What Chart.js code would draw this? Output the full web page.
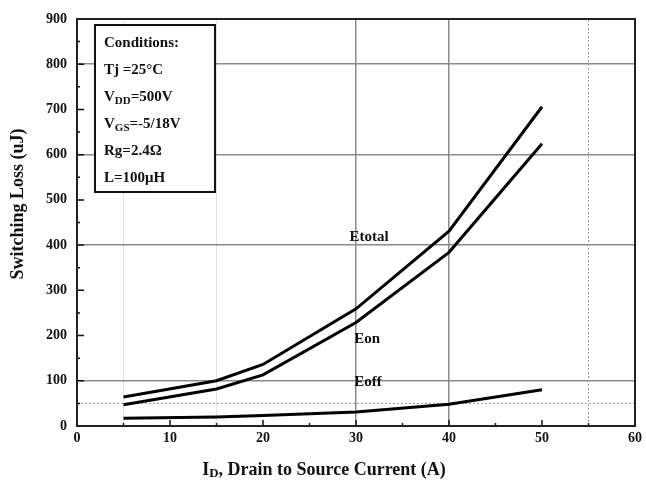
<!DOCTYPE html>
<html>
<head>
<meta charset="utf-8">
<script src="https://cdn.jsdelivr.net/npm/chart.js@4/dist/chart.umd.min.js"></script>
<style>
  html, body { margin: 0; padding: 0; background: #fff; }
  #wrap { width: 646px; height: 491px; }
</style>
</head>
<body>
<div id="wrap"><canvas id="chart"></canvas></div>
<script>
// ---- data ----
const currents = [5, 15, 20, 30, 40, 50];          // I_D (A)
const eTotal   = [64, 100, 136, 259, 431, 706];     // uJ
const eOn      = [47, 82, 113, 229, 384, 624];
const eOff     = [17, 20, 23, 31, 48, 80];
const refLoss = 50;        // dotted horizontal line
const refCurrent = 55;     // dotted vertical line
const xMax = 60, yMax = 900;
const yGridSolid = [100, 400, 600, 800];
const xGridSolid = [30, 40];
const xGridFaint = [5, 15];

// curve labels: [text, x value, y value]
const curveLabels = [['Etotal', 29.3, 418], ['Eon', 29.8, 193], ['Eoff', 29.8, 96]];

// conditions box, each line = pieces of [text, isSubscript]
const conditions = [
  [['Conditions:', 0]],
  [['Tj =25°C', 0]],
  [['V', 0], ['DD', 1], ['=500V', 0]],
  [['V', 0], ['GS', 1], ['=-5/18V', 0]],
  [['Rg=2.4Ω', 0]],
  [['L=100μH', 0]]
];

const SERIF = '"Liberation Serif", "DejaVu Serif", serif';
const pts = ys => currents.map((x, i) => ({ x, y: ys[i] }));

function drawPieces(ctx, pieces, x, y, size) {
  pieces.forEach(([t, sub]) => {
    ctx.font = `bold ${sub ? Math.round(size * 0.7) : size}px ${SERIF}`;
    ctx.fillText(t, x, sub ? y + 4 : y);
    x += ctx.measureText(t).width;
  });
}

const decor = {
  id: 'decor',
  afterDraw(chart) {
    const { ctx, chartArea: a, scales: { x, y } } = chart;
    ctx.save();
    // inward ticks
    ctx.strokeStyle = '#111';
    ctx.lineWidth = 1.5;
    ctx.beginPath();
    for (let v = 50; v < yMax; v += 50) {
      const py = y.getPixelForValue(v), len = v % 100 === 0 ? 7 : 3;
      ctx.moveTo(a.left, py); ctx.lineTo(a.left + len, py);
    }
    for (let v = 5; v < xMax; v += 5) {
      const px = x.getPixelForValue(v), len = v % 10 === 0 ? 6 : 3;
      ctx.moveTo(px, a.bottom); ctx.lineTo(px, a.bottom - len);
    }
    ctx.stroke();
    // frame
    ctx.strokeStyle = '#222';
    ctx.lineWidth = 2;
    ctx.strokeRect(a.left, a.top, a.right - a.left, a.bottom - a.top);

    // conditions box
    const bx = a.left + 18, by = a.top + 6, bw = 120, bh = 167;
    ctx.fillStyle = '#fff';
    ctx.fillRect(bx, by, bw, bh);
    ctx.strokeStyle = '#111';
    ctx.lineWidth = 2;
    ctx.strokeRect(bx, by, bw, bh);
    ctx.fillStyle = '#111';
    ctx.textBaseline = 'middle';
    ctx.textAlign = 'left';
    conditions.forEach((line, i) => drawPieces(ctx, line, bx + 9, by + 18 + i * 27, 15));

    // curve labels
    ctx.font = `bold 15px ${SERIF}`;
    curveLabels.forEach(([t, vx, vy]) => {
      ctx.fillText(t, x.getPixelForValue(vx), y.getPixelForValue(vy));
    });

    // y title
    ctx.save();
    ctx.translate(18, 204);
    ctx.rotate(-Math.PI / 2);
    ctx.textAlign = 'center';
    ctx.font = `bold 18px ${SERIF}`;
    ctx.fillText('Switching Loss (uJ)', 0, 0);
    ctx.restore();

    // x title with subscript
    const pieces = [['I', 0], ['D', 1], [', Drain to Source Current (A)', 0]];
    let w = 0;
    pieces.forEach(([t, sub]) => {
      ctx.font = `bold ${sub ? 13 : 18}px ${SERIF}`;
      w += ctx.measureText(t).width;
    });
    drawPieces(ctx, pieces, 324 - w / 2, 470, 18);
    ctx.restore();
  }
};

new Chart(document.getElementById('chart'), {
  type: 'line',
  data: {
    datasets: [
      { label: 'Etotal', data: pts(eTotal), borderColor: '#000', borderWidth: 3, pointRadius: 0, tension: 0 },
      { label: 'Eon', data: pts(eOn), borderColor: '#000', borderWidth: 3, pointRadius: 0, tension: 0 },
      { label: 'Eoff', data: pts(eOff), borderColor: '#000', borderWidth: 3, pointRadius: 0, tension: 0 },
      { label: 'ref-h', data: [{ x: 0, y: refLoss }, { x: xMax, y: refLoss }], borderColor: '#9a9a9a', borderWidth: 1, borderDash: [2, 2], pointRadius: 0 },
      { label: 'ref-v', data: [{ x: refCurrent, y: 0 }, { x: refCurrent, y: yMax }], borderColor: '#9a9a9a', borderWidth: 1, borderDash: [2, 2], pointRadius: 0 }
    ]
  },
  options: {
    responsive: true,
    maintainAspectRatio: false,
    animation: false,
    layout: { padding: { top: 19, right: 10, left: 0, bottom: 0 } },
    plugins: { legend: { display: false }, tooltip: { enabled: false } },
    scales: {
      x: {
        type: 'linear', min: 0, max: xMax,
        afterFit: s => { s.height = 65; },
        border: { display: false },
        grid: {
          drawTicks: false,
          lineWidth: c => xGridSolid.includes(c.tick.value) ? 1.5 : 1,
          color: c => xGridSolid.includes(c.tick.value) ? '#8a8a8a'
                    : xGridFaint.includes(c.tick.value) ? '#e2e2e2' : 'rgba(0,0,0,0)'
        },
        ticks: {
          stepSize: 5, autoSkip: false, maxRotation: 0, padding: 4, color: '#111',
          font: { family: SERIF, size: 14, weight: 'bold' },
          callback: v => v % 10 === 0 ? v : ''
        }
      },
      y: {
        min: 0, max: yMax,
        afterFit: s => { s.width = 77; },
        border: { display: false },
        grid: {
          drawTicks: false,
          lineWidth: 1.5,
          color: c => yGridSolid.includes(c.tick.value) ? '#8a8a8a' : 'rgba(0,0,0,0)'
        },
        ticks: {
          stepSize: 50, autoSkip: false, padding: 10, color: '#111',
          font: { family: SERIF, size: 14, weight: 'bold' },
          callback: v => v % 100 === 0 ? v : ''
        }
      }
    }
  },
  plugins: [decor]
});
</script>
</body>
</html>
